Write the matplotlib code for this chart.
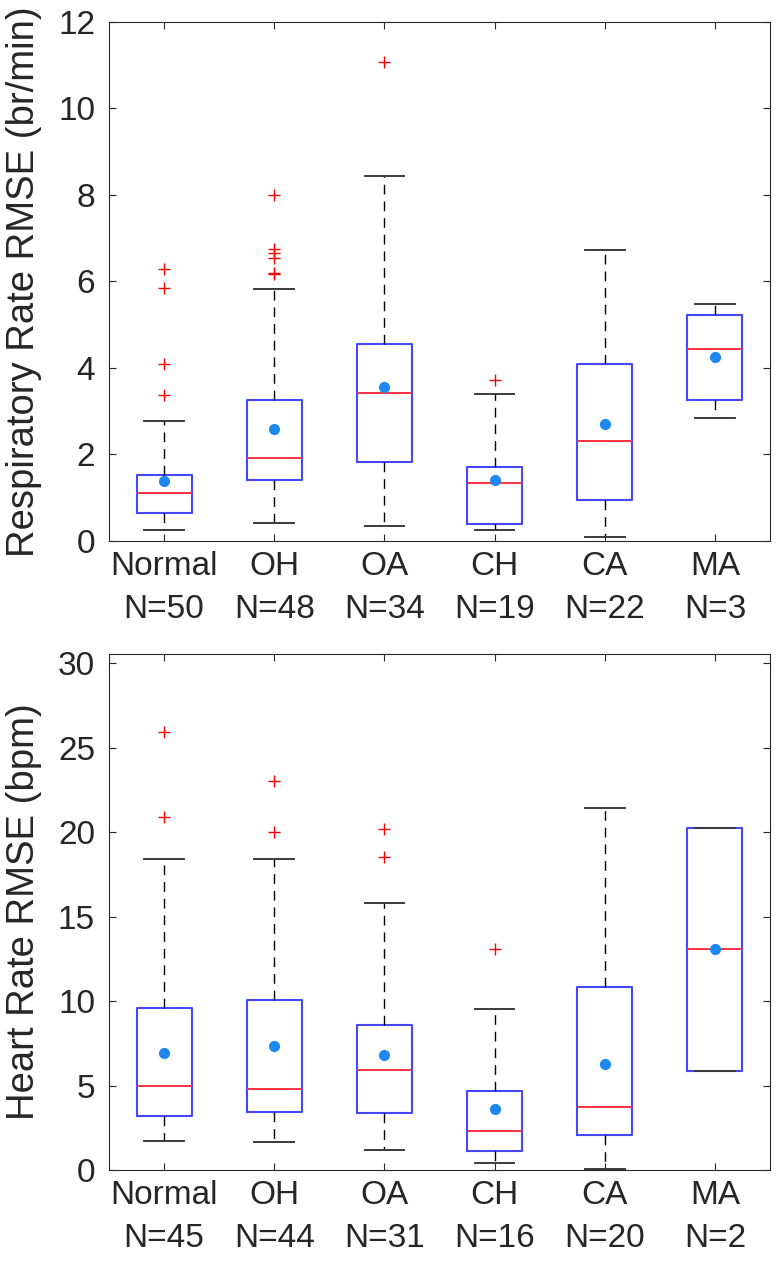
import matplotlib
matplotlib.use("Agg")
import matplotlib.pyplot as plt

plt.rcParams['font.family'] = ['Liberation Sans', 'DejaVu Sans']

groups = ["Normal", "OH", "OA", "CH", "CA", "MA"]

# Respiratory rate RMSE (br/min)
rr_n = [50, 48, 34, 19, 22, 3]
rr_low = [0.25, 0.42, 0.35, 0.25, 0.10, 2.85]
rr_q1 = [0.65, 1.42, 1.82, 0.40, 0.95, 3.25]
rr_med = [1.10, 1.92, 3.42, 1.35, 2.30, 4.45]
rr_q3 = [1.52, 3.25, 4.55, 1.72, 4.10, 5.22]
rr_high = [2.78, 5.82, 8.43, 3.40, 6.72, 5.47]
rr_mean = [1.38, 2.58, 3.55, 1.42, 2.70, 4.25]
rr_out = [[3.38, 4.10, 5.85, 6.28],
          [6.18, 6.20, 6.55, 6.65, 6.75, 8.00],
          [11.07],
          [3.73],
          [],
          []]

# Heart rate RMSE (bpm)
hr_n = [45, 44, 31, 16, 20, 2]
hr_low = [1.70, 1.65, 1.20, 0.40, 0.05, 5.85]
hr_q1 = [3.20, 3.45, 3.35, 1.15, 2.10, 5.85]
hr_med = [5.00, 4.80, 5.90, 2.30, 3.75, 13.05]
hr_q3 = [9.60, 10.05, 8.60, 4.70, 10.80, 20.25]
hr_high = [18.40, 18.40, 15.80, 9.50, 21.40, 20.25]
hr_mean = [6.95, 7.35, 6.80, 3.60, 6.30, 13.05]
hr_out = [[20.9, 25.9],
          [20.0, 23.0],
          [18.5, 20.15],
          [13.05],
          [],
          []]


def make_stats(low, q1, med, q3, high, mean, out):
    stats = []
    for i in range(len(low)):
        stats.append(dict(whislo=low[i], q1=q1[i], med=med[i], q3=q3[i],
                          whishi=high[i], mean=mean[i], fliers=out[i]))
    return stats


def draw_panel(ax, stats, n, ylim, yticks, ylabel):
    pos = list(range(1, len(stats) + 1))
    ax.bxp(stats, positions=pos, widths=0.5, capwidths=0.36,
           showmeans=True, showfliers=True,
           boxprops=dict(color="#4646ff", linewidth=1.5),
           medianprops=dict(color="#ff3040", linewidth=1.4),
           whiskerprops=dict(color="black", linewidth=1.0, linestyle=(0, (7, 5))),
           capprops=dict(color="#3a3a3a", linewidth=1.4),
           flierprops=dict(marker="+", markeredgecolor="red", markersize=9,
                           markeredgewidth=1.0),
           meanprops=dict(marker="o", markerfacecolor="#1e88f0",
                          markeredgecolor="#1e88f0", markersize=7))
    ax.set_xlim(0.5, len(stats) + 0.5)
    ax.set_ylim(*ylim)
    ax.set_yticks(yticks)
    ax.set_xticks(pos)
    ax.set_xticklabels([f"{g}\nN={k}" for g, k in zip(groups, n)], linespacing=1.5)
    ax.set_ylabel(ylabel, fontsize=27.5, color="#262626")
    ax.yaxis.set_label_coords(-0.101, 0.5)
    ax.tick_params(direction="in", top=True, right=True, labelsize=24,
                   length=5, width=0.8, colors="#262626")
    ax.tick_params(axis="y", pad=10)
    ax.tick_params(axis="x", pad=7)
    for s in ax.spines.values():
        s.set_color("#262626")
        s.set_linewidth(0.8)


fig = plt.figure(figsize=(7.83, 12.69), dpi=100)
ax1 = fig.add_axes([0.1392, 0.5737, 0.8442, 0.4090])
ax2 = fig.add_axes([0.1392, 0.0780, 0.8442, 0.4066])

draw_panel(ax1, make_stats(rr_low, rr_q1, rr_med, rr_q3, rr_high, rr_mean, rr_out),
           rr_n, (0, 12), [0, 2, 4, 6, 8, 10, 12], "Respiratory Rate RMSE (br/min)")
draw_panel(ax2, make_stats(hr_low, hr_q1, hr_med, hr_q3, hr_high, hr_mean, hr_out),
           hr_n, (0, 30.53), [0, 5, 10, 15, 20, 25, 30], "Heart Rate RMSE (bpm)")

fig.savefig("out.png", dpi=100)
